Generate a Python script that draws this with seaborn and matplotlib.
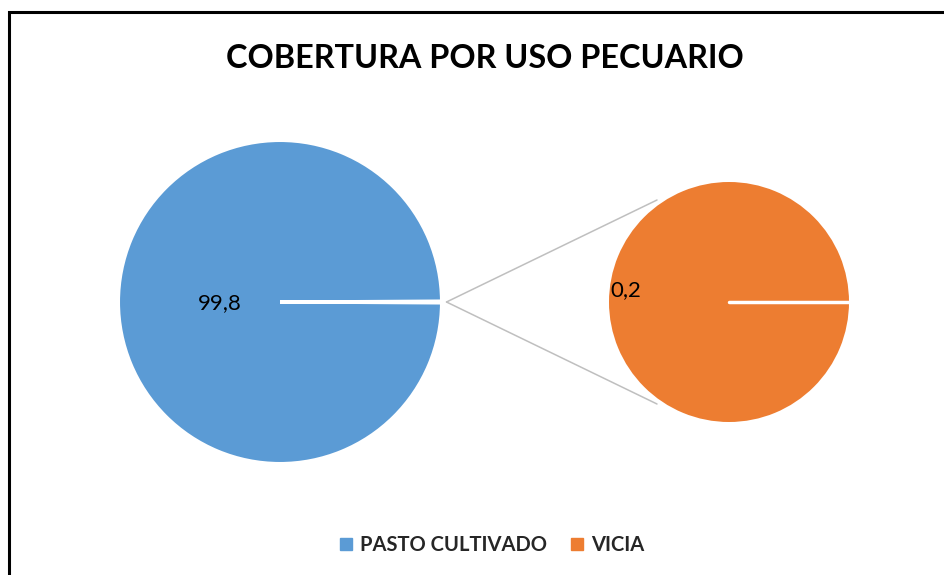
import seaborn as sns
import matplotlib.pyplot as plt
from matplotlib.patches import Rectangle

# data
main_labels = ['PASTO CULTIVADO', 'OTROS']
main_values = [99.8, 0.2]
second_labels = ['VICIA']
second_values = [0.2]
label_text = ['99,8', '0,2']

sns.set_theme(style="white")
plt.rcParams['font.family'] = ['Lato', 'DejaVu Sans']

colors = sns.color_palette(['#5B9BD5', '#ED7D31'])

fig = plt.figure(figsize=(9.45, 5.75), dpi=100)
ax = fig.add_axes([0, 0, 1, 1])
ax.set_xlim(0, 945)
ax.set_ylim(575, 0)
ax.set_aspect('equal')
ax.axis('off')

# layout (pixels)
c1, r1 = (280, 302), 161.5
c2, r2 = (729, 302), 120

# main pie: tiny "other" slice centered on 0 degrees
half = main_values[1] / sum(main_values) * 360 / 2
ax.pie(main_values[::-1], center=c1, radius=r1, startangle=-half, counterclock=True,
       colors=[colors[0], colors[0]],
       wedgeprops=dict(edgecolor='white', linewidth=2.2))

# second pie
ax.pie(second_values, center=c2, radius=r2, startangle=0, colors=[colors[1]],
       wedgeprops=dict(edgecolor='white', linewidth=0))
ax.plot([c2[0], c2[0] + r2], [c2[1], c2[1]], color='white', lw=2.5, solid_capstyle='round')

# connector lines
ax.plot([c1[0] + r1 + 5, 657], [c1[1], c2[1] - 102], color='#BFBFBF', lw=1.1)
ax.plot([c1[0] + r1 + 5, 657], [c1[1], c2[1] + 102], color='#BFBFBF', lw=1.1)

ax.set_xlim(0, 945)
ax.set_ylim(575, 0)

# data labels
ax.text(c1[0] - 60, c1[1] + 1, label_text[0], fontsize=16, ha='center', va='center', color='#000000')
ax.text(c2[0] - 103, c2[1] - 12, label_text[1], fontsize=16, ha='center', va='center', color='#000000')

# title
ax.text(485, 58, 'COBERTURA POR USO PECUARIO', fontsize=23.3, fontweight='bold',
        ha='center', va='center', color='#000000')

# legend
handles = [plt.Line2D([], [], marker='s', linestyle='', markersize=8.5, color=colors[0]),
           plt.Line2D([], [], marker='s', linestyle='', markersize=8.5, color=colors[1])]
fig.legend(handles, [main_labels[0], second_labels[0]], loc='center', bbox_to_anchor=(490 / 945, 1 - 545 / 575),
           ncol=2, frameon=False, prop=dict(weight='bold', size=14.5), handletextpad=0.2,
           columnspacing=1.0, handlelength=1.0)

# chart border
fig.patches.append(Rectangle((9 / 945, -0.1), 1.2, 1.1 - 12 / 575, transform=fig.transFigure,
                             fill=False, edgecolor='black', lw=2.2))

fig.savefig('out.png', dpi=100)
